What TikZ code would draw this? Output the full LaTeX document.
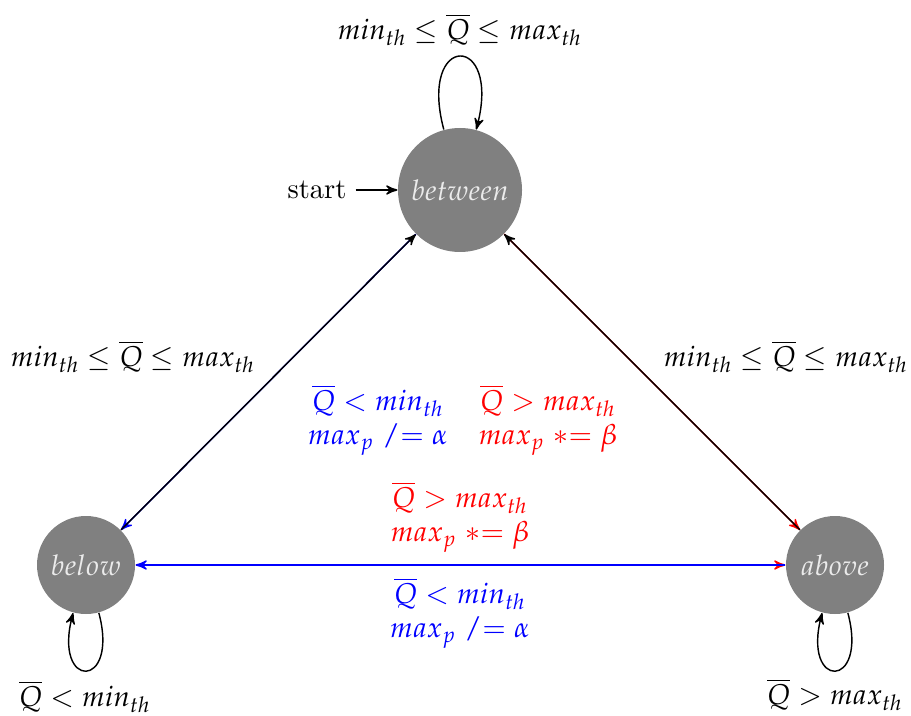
\documentclass[tikz,border=0pt]{standalone}
\usepackage{mathpazo}
\usetikzlibrary{arrows}
\begin{document}
\begin{tikzpicture}[x=0.35pt,y=0.35pt,>=stealth']
\tikzset{
  st/.style={circle, fill=gray, text=white!92!black, inner sep=0pt},
  conn/.style={->, line width=0.5pt},
  lbl/.style={inner sep=0pt, align=center}
}
\useasboundingbox (0,0) rectangle (911,715);
\node[st, minimum size=43.4pt] (B) at (460,525) {$between$};
\node[st, minimum size=34.3pt] (W) at (86,150) {$below$};
\node[st, minimum size=34.3pt] (A) at (835,150) {$above$};
\node[inner sep=3pt] (S) at (317,525) {start};
\draw[conn] (S) -- (B);
% loops
\draw[conn] (B) to[out=105,in=75,looseness=8] (B);
\draw[conn] (W) to[out=285,in=255,looseness=8] (W);
\draw[conn] (A) to[out=285,in=255,looseness=8] (A);
% between - below
\draw[conn, blue] (B) -- (W);
\draw[conn, black] (W) -- (B);
% between - above
\draw[conn, red] (B) -- (A);
\draw[conn, black] (A) -- (B);
% below - above
\draw[conn, red] (W) -- (A);
\draw[conn, blue] (A) -- (W);
% labels
\node[lbl] (lt) at (460,685) {$min_{th} \leq \overline{Q} \leq max_{th}$};
\node[lbl] (ll) at (133,358) {$min_{th} \leq \overline{Q} \leq max_{th}$};
\node[lbl] (lr) at (786,358) {$min_{th} \leq \overline{Q} \leq max_{th}$};
\node[lbl, text=blue] (cb) at (378,295) {$\overline{Q} < min_{th}$\\$max_p \mathrel{/}= \alpha$};
\node[lbl, text=red] (cr) at (548,295) {$\overline{Q} > max_{th}$\\$max_p \mathrel{*}= \beta$};
\node[lbl, text=red] (hr) at (460,198) {$\overline{Q} > max_{th}$\\$max_p \mathrel{*}= \beta$};
\node[lbl, text=blue] (hb) at (460,102) {$\overline{Q} < min_{th}$\\$max_p \mathrel{/}= \alpha$};
\node[lbl] (lw) at (85,18) {$\overline{Q} < min_{th}$};
\node[lbl] (la) at (835,20) {$\overline{Q} > max_{th}$};
\end{tikzpicture}
\end{document}
